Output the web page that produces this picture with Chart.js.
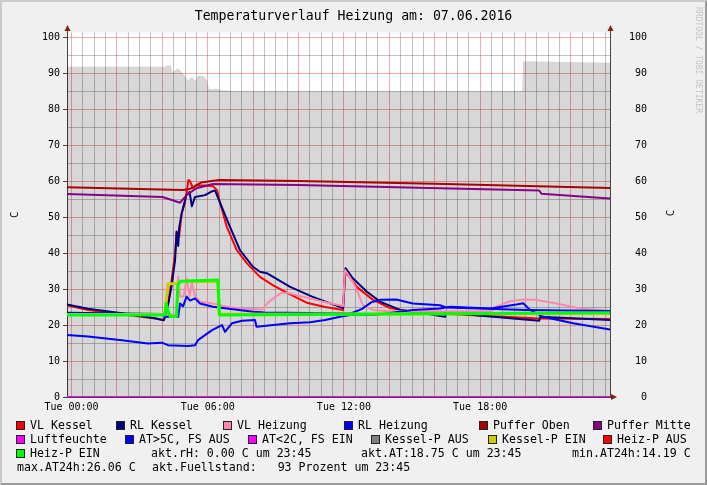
<!DOCTYPE html>
<html>
<head>
<meta charset="utf-8">
<title>Temperaturverlauf Heizung</title>
<script src="https://cdn.jsdelivr.net/npm/chart.js@4.4.1/dist/chart.umd.min.js"></script>
<style>
  html, body { margin: 0; padding: 0; background: #f0f0f0; }
  #page { position: relative; width: 707px; height: 485px; overflow: hidden; background: #f0f0f0; }
  #frame { position: absolute; left: 0; top: 0; width: 707px; height: 485px; box-sizing: border-box;
           border: 2px solid; border-color: #cbcbcb #9a9a9a #9a9a9a #cbcbcb; pointer-events: none; }
  #chart { position: absolute; left: 0; top: 0; }
  .mono { position: absolute; font-family: "DejaVu Sans Mono", monospace; white-space: pre; color: #000; }
  #title { left: 0; width: 707px; top: 8px; text-align: center; font-size: 13.2px; line-height: 16px; }
  .leg { font-size: 11.6px; line-height: 14px; }
  .sq { position: absolute; width: 9px; height: 9px; border: 1px solid #222; box-sizing: border-box; }
  #credit { left: 703px; top: 7px; font-size: 8px; line-height: 9px; color: #c4c4c4;
            transform: rotate(90deg); transform-origin: left top; }
  #unitRight { left: 664px; top: 207px; width: 12px; height: 12px; line-height: 12px; text-align: center;
               font-size: 10.5px; transform: rotate(-90deg); }
</style>
</head>
<body>
<div id="page">
  <canvas id="chart" width="707" height="485"></canvas>
  <div id="title" class="mono">Temperaturverlauf Heizung am: 07.06.2016</div>
  <div id="credit" class="mono">RRDTOOL / TOBI OETIKER</div>
  <div id="unitRight" class="mono">C</div>
  <div id="legend"></div>
  <div id="frame"></div>
</div>
<script>
// time axis: hours of the day
const X_MIN = -0.2;
const X_MAX = 23.72;
const xTickHours = [0, 6, 12, 18];
const xTickLabels = ['Tue 00:00', 'Tue 06:00', 'Tue 12:00', 'Tue 18:00'];
const Y_MAX = 101.3;

// series as [hour, value] pairs
const vlKessel = [[-0.2, 25.5], [0.73, 24.2], [2.22, 23.0], [3.68, 21.8], [4.07, 21.4], [4.25, 26], [4.41, 32.5],
  [4.56, 40], [4.63, 46], [4.74, 44.5], [4.85, 51], [5.0, 54], [5.15, 60.3], [5.22, 60], [5.35, 58], [5.48, 58.8],
  [5.88, 58.8], [6.23, 58.6], [6.41, 57.5], [6.54, 54], [6.84, 47.3], [7.28, 40.8], [7.72, 37.2], [8.3, 33.4],
  [8.88, 31], [9.63, 28.5], [10.36, 26.2], [11.17, 25], [11.96, 24.2], [12.05, 34.8], [12.27, 33.2], [12.56, 30.6],
  [13.28, 27], [14.03, 24.7], [15.04, 23.7], [16.23, 23.2], [16.8, 23.0], [18.88, 22.4], [20.6, 21.8], [23.72, 21.7]];
const rlKessel = [[-0.2, 25.7], [0.73, 24.5], [2.22, 23.3], [3.68, 21.9], [4.07, 21.3], [4.25, 25.5], [4.41, 31],
  [4.56, 38], [4.63, 45.9], [4.7, 42], [4.74, 47], [4.85, 51], [4.95, 53.5], [5.05, 56], [5.2, 57], [5.3, 53],
  [5.44, 55.6], [5.88, 56.1], [6.2, 57.2], [6.32, 57.4], [6.54, 54], [6.98, 47.3], [7.42, 40.8], [7.99, 36.2],
  [8.3, 34.8], [8.6, 34.4], [8.88, 33.4], [9.63, 30.6], [10.6, 27.9], [11.96, 24.7], [12.07, 35.8], [12.39, 33],
  [13.0, 29.3], [13.59, 26.5], [14.47, 24.2], [15.65, 23.1], [16.45, 22.3], [16.52, 23.4], [16.8, 23.3],
  [20.6, 21.2], [20.65, 22.3], [23.72, 21.4]];
const vlHeizung = [[-0.2, 23.0], [4.0, 22.9], [4.6, 23], [4.7, 33.4], [4.78, 27.9], [4.93, 27.9], [5.07, 33],
  [5.2, 28], [5.3, 31.7], [5.44, 28], [5.66, 26.5], [6.23, 26], [6.84, 25.1], [7.5, 24.5], [8.4, 24.3], [8.7, 26.5],
  [9.2, 28.8], [9.5, 29], [9.92, 28.3], [11.07, 26.5], [11.96, 25.3], [12.05, 35.3], [12.39, 32], [12.6, 29.3],
  [12.83, 25.5], [13.28, 24.2], [14.0, 23.8], [18.5, 23.8], [18.73, 25.1], [19.3, 26.6], [19.9, 27.1], [20.4, 27],
  [21.2, 26.2], [22.4, 24.6], [23.72, 23.9]];
const rlHeizung = [[-0.2, 23.4], [4.03, 23.1], [4.1, 22.3], [4.7, 22.3], [4.78, 26], [4.91, 25.2], [5.07, 27.9],
  [5.22, 26.8], [5.44, 27.4], [5.66, 26], [6.23, 25.1], [6.84, 24.6], [8.0, 23.7], [8.5, 23.5], [12.3, 23.2],
  [12.8, 24.5], [13.2, 26.3], [13.6, 27], [14.3, 27.1], [15.04, 26], [16.23, 25.5], [16.5, 24.9], [18.0, 24.6],
  [20.0, 24.2], [23.72, 23.9]];
const pufferOben = [[-0.2, 58.3], [4.9, 57.5], [5.2, 57.8], [5.7, 59.6], [6.5, 60.3], [10, 60], [16, 59.3], [23.72, 58.1]];
const pufferMitte = [[-0.2, 56.4], [4.0, 55.6], [4.45, 54.7], [4.78, 54], [5.07, 56.1], [5.5, 58], [6.23, 59.2],
  [10, 58.9], [20.6, 57.4], [20.7, 56.5], [23.72, 55.2]];
const luftfeuchte = [[-0.2, 0], [23.72, 0]];
const aussenTemp = [[-0.2, 17.2], [0.73, 16.8], [2.22, 15.8], [3.36, 14.9], [3.98, 15.1], [4.25, 14.4], [5.13, 14.2],
  [5.44, 14.4], [5.57, 15.8], [6.19, 18.6], [6.63, 20], [6.76, 18.1], [7.07, 20.5], [7.51, 21.2], [8.08, 21.4],
  [8.15, 19.5], [9.63, 20.5], [10.5, 20.8], [11.17, 21.4], [11.83, 22.3], [12.27, 22.8], [13.28, 22.8],
  [13.87, 23.2], [15.04, 24.2], [16.23, 24.6], [16.67, 25.1], [18.44, 24.6], [19.6, 25.7], [19.9, 26.06],
  [20.2, 24.2], [20.77, 22.3], [22.1, 20.5], [23.72, 18.75]];
const kesselPEin = [[-0.2, 22.9], [4.1, 22.9], [4.19, 28], [4.25, 31.4], [4.7, 31.6], [4.75, 32.1], [6.44, 32.2],
  [6.5, 23], [23.72, 23.2]];
const heizPEin = [[-0.2, 22.8], [4.12, 22.8], [4.17, 26], [4.25, 24], [4.34, 22.4], [4.63, 22.4], [4.68, 31],
  [4.8, 32.2], [6.45, 32.5], [6.52, 22.8], [12, 23.0], [23.72, 23.4]];
const fuellstand = [[-0.2, 91.75], [4.12, 91.75], [4.2, 92.2], [4.37, 92.2], [4.45, 90.2], [4.65, 91.3],
  [4.78, 90.8], [4.91, 89.9], [5.13, 88], [5.31, 89], [5.44, 87.8], [5.57, 89.3], [5.79, 89.3], [5.97, 88],
  [6.06, 85.6], [6.45, 85.7], [6.63, 85.2], [7.3, 85.0], [19.85, 85.0], [19.89, 93.3], [23.72, 92.9]];

// legend
const legendNames = ['VL Kessel', 'RL Kessel', 'VL Heizung', 'RL Heizung', 'Puffer Oben', 'Puffer Mitte',
  'Luftfeuchte', 'AT>5C, FS AUS', 'AT<2C, FS EIN', 'Kessel-P AUS', 'Kessel-P EIN', 'Heiz-P AUS', 'Heiz-P EIN'];
const legendColors = ['#ff0000', '#000080', '#ff88aa', '#0000ff', '#aa0000', '#880088',
  '#ff00ff', '#0000ff', '#ff00ff', '#808080', '#cccc00', '#ff0000', '#00ff00'];
const infoTexts = ['akt.rH: 0.00 C um 23:45', 'akt.AT:18.75 C um 23:45', 'min.AT24h:14.19 C',
  'max.AT24h:26.06 C', 'akt.Fuellstand:   93 Prozent um 23:45'];

const MONO = '"DejaVu Sans Mono", monospace';
const RED_GRID = 'rgba(225, 70, 70, 0.45)';
const GREY_GRID = 'rgba(110, 110, 110, 0.42)';

// legend layout (text left x, row)
const legendPos = [[30, 0], [130, 0], [237, 0], [358, 0], [493, 0], [607, 0],
  [30, 1], [139, 1], [262, 1], [385, 1], [502, 1], [617, 1], [30, 2]];
const infoPos = [[151, 2], [361, 2], [572, 2], [17, 3], [152, 3]];
const rowY = [425, 439, 453, 467];

const legendBox = document.getElementById('legend');
legendNames.forEach((name, i) => {
  const [x, r] = legendPos[i];
  const sq = document.createElement('div');
  sq.className = 'sq';
  sq.style.left = (x - 14) + 'px';
  sq.style.top = (rowY[r] - 4.5) + 'px';
  sq.style.background = legendColors[i];
  legendBox.appendChild(sq);
  const t = document.createElement('div');
  t.className = 'mono leg';
  t.style.left = x + 'px';
  t.style.top = (rowY[r] - 7) + 'px';
  t.textContent = name;
  legendBox.appendChild(t);
});
infoTexts.forEach((txt, i) => {
  const [x, r] = infoPos[i];
  const t = document.createElement('div');
  t.className = 'mono leg';
  t.style.left = x + 'px';
  t.style.top = (rowY[r] - 7) + 'px';
  t.textContent = txt;
  legendBox.appendChild(t);
});

const toXY = arr => arr.map(p => ({ x: p[0], y: p[1] }));

function line(label, data, color, width, order) {
  return {
    label: label, data: toXY(data), borderColor: color, backgroundColor: color,
    borderWidth: width, pointRadius: 0, tension: 0, fill: false,
    borderJoinStyle: 'round', borderCapStyle: 'butt', order: order
  };
}

const datasets = [
  {
    label: 'Fuellstand', data: toXY(fuellstand), borderWidth: 0, pointRadius: 0, tension: 0,
    fill: 'origin', backgroundColor: 'rgba(0, 0, 0, 0.155)', borderColor: 'rgba(0,0,0,0)', order: 100
  },
  line(legendNames[0], vlKessel, legendColors[0], 2, 20),
  line(legendNames[1], rlKessel, legendColors[1], 2, 19),
  line(legendNames[2], vlHeizung, legendColors[2], 2, 18),
  line(legendNames[3], rlHeizung, legendColors[3], 2, 17),
  line(legendNames[4], pufferOben, legendColors[4], 2, 16),
  line(legendNames[5], pufferMitte, legendColors[5], 2, 15),
  line('AT', aussenTemp, legendColors[7], 2, 14),
  line(legendNames[10], kesselPEin, legendColors[10], 3, 11),
  line(legendNames[12], heizPEin, legendColors[12], 3, 10),
  line(legendNames[6], luftfeuchte, legendColors[6], 2, 9)
];

// white canvas behind the plot, axis arrows on top
const rrdFrame = {
  id: 'rrdFrame',
  beforeDraw(chart) {
    const { ctx, chartArea: a } = chart;
    ctx.save();
    ctx.fillStyle = '#ffffff';
    ctx.fillRect(a.left, a.top, a.right - a.left, a.bottom - a.top);
    ctx.restore();
  },
  afterDraw(chart) {
    const { ctx, chartArea: a } = chart;
    ctx.save();
    ctx.strokeStyle = '#444';
    ctx.lineWidth = 1;
    ctx.beginPath();
    ctx.moveTo(a.left + 0.5, a.top); ctx.lineTo(a.left + 0.5, a.top - 3);
    ctx.moveTo(a.right + 0.5, a.top); ctx.lineTo(a.right + 0.5, a.top - 3);
    ctx.stroke();
    ctx.fillStyle = '#8b1c1c';
    const up = (x, y) => { ctx.beginPath(); ctx.moveTo(x - 3, y); ctx.lineTo(x + 3, y); ctx.lineTo(x, y - 6); ctx.closePath(); ctx.fill(); };
    up(a.left + 0.5, a.top - 1.5);
    up(a.right + 0.5, a.top - 1.5);
    ctx.beginPath();
    ctx.moveTo(a.right + 1, a.bottom - 3); ctx.lineTo(a.right + 1, a.bottom + 3); ctx.lineTo(a.right + 7, a.bottom);
    ctx.closePath(); ctx.fill();
    ctx.restore();
  }
};

// major grid every 2 h (labels every 6 h), minor grid every 30 min
const majorHours = [];
for (let h = 0; h <= 22; h += 2) majorHours.push(h);
const minorHours = [];
for (let i = 1; i <= 47; i += 1) if (i % 4 !== 0) minorHours.push(i * 0.5);
const gridTemps = [];
for (let v = 0; v <= 100; v += 5) gridTemps.push(v);

const tickFont = { family: MONO, size: 10 };

new Chart(document.getElementById('chart').getContext('2d'), {
  type: 'line',
  data: { datasets: datasets },
  plugins: [rrdFrame],
  options: {
    responsive: false,
    animation: false,
    devicePixelRatio: 1,
    layout: { padding: { top: 32.5, bottom: 70, left: 0, right: 0 } },
    plugins: { legend: { display: false }, tooltip: { enabled: false }, title: { display: false } },
    scales: {
      x: {
        type: 'linear', position: 'bottom', min: X_MIN, max: X_MAX,
        afterBuildTicks: s => { s.ticks = majorHours.map(v => ({ value: v })); },
        afterFit: s => { s.height = 18; },
        ticks: {
          autoSkip: false, maxRotation: 0, minRotation: 0, padding: 4, color: '#000', font: tickFont,
          callback: v => { const i = xTickHours.indexOf(v); return i >= 0 ? xTickLabels[i] : ''; }
        },
        grid: { color: RED_GRID, drawTicks: false },
        border: { display: true, color: '#444' }
      },
      xMinor: {
        type: 'linear', position: 'bottom', min: X_MIN, max: X_MAX,
        afterBuildTicks: s => { s.ticks = minorHours.map(v => ({ value: v })); },
        afterFit: s => { s.height = 0; },
        ticks: { display: false },
        grid: { color: GREY_GRID, drawTicks: false },
        border: { display: false }
      },
      y: {
        position: 'left', min: 0, max: Y_MAX,
        afterBuildTicks: s => { s.ticks = gridTemps.map(v => ({ value: v })); },
        afterFit: s => { s.width = 67; },
        ticks: {
          autoSkip: false, padding: 3, color: '#000', font: tickFont,
          callback: v => (v % 10 === 0 ? String(v) : '')
        },
        grid: {
          color: c => (c.tick && c.tick.value % 10 === 0) ? RED_GRID : GREY_GRID,
          tickColor: c => (c.tick && c.tick.value % 10 === 0) ? '#444' : 'rgba(0,0,0,0)',
          tickLength: 4
        },
        border: { display: true, color: '#444' },
        title: { display: true, text: 'C', color: '#000', padding: { top: 9, bottom: 0 }, font: { family: MONO, size: 10.5 } }
      },
      y2: {
        position: 'right', min: 0, max: Y_MAX,
        afterBuildTicks: s => { s.ticks = gridTemps.map(v => ({ value: v })); },
        afterFit: s => { s.width = 97; },
        ticks: {
          autoSkip: false, padding: 19, color: '#000', font: tickFont,
          callback: v => (v % 10 === 0 ? String(v).padStart(3, ' ') : '')
        },
        grid: { display: false, drawTicks: false, drawOnChartArea: false },
        border: { display: true, color: '#444' }
      }
    }
  }
});
</script>
</body>
</html>
